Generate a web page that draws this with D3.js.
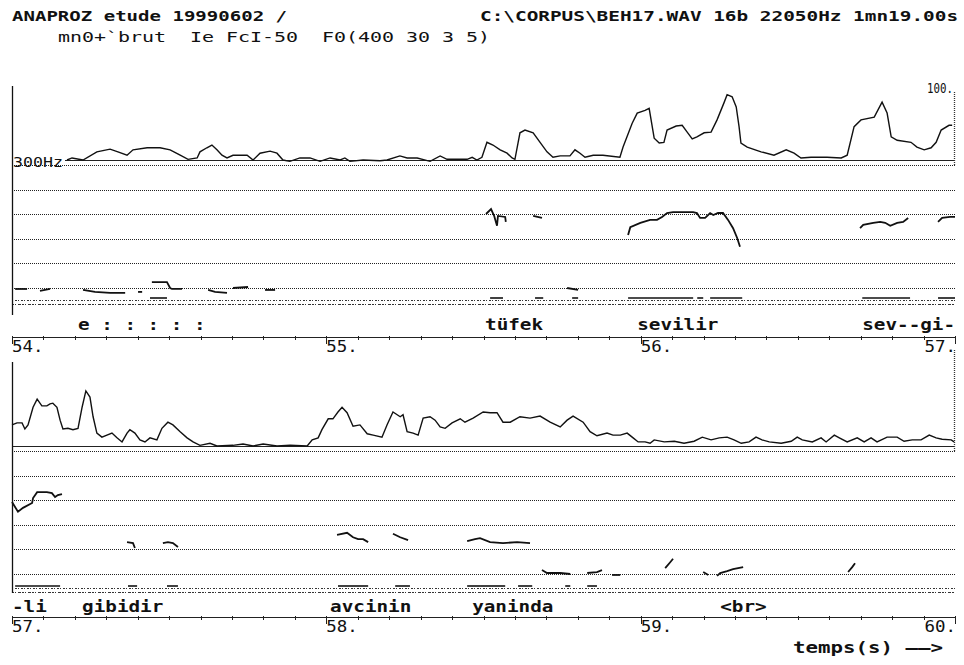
<!DOCTYPE html>
<html lang="fr">
<head>
<meta charset="utf-8" />
<title>ANAPROZ etude 19990602</title>
<script src="https://cdn.jsdelivr.net/npm/d3@7"></script>
<style>
body{margin:0;background:#fff;}
svg{display:block;}
text{font-family:"DejaVu Sans Mono",monospace;fill:#111;white-space:pre;}
</style>
</head>
<body>
<svg width="964" height="665"></svg>
<script>
// energy curve (0..100), [time s, value]
const energyTop = [
  [54.175,0],[54.191,3],[54.226,0],[54.270,12],[54.312,16],[54.337,12],[54.366,7],[54.385,15],
  [54.430,18],[54.471,18],[54.503,15],[54.535,7],[54.560,1],[54.589,3],[54.598,12],[54.620,18],
  [54.636,22],[54.652,15],[54.668,7],[54.684,3],[54.703,7],[54.748,7],[54.767,0],[54.789,10],
  [54.821,13],[54.843,10],[54.862,0],[54.884,-2],[54.916,3],[54.948,3],[54.980,-2],[55.012,3],
  [55.044,0],[55.059,3],[55.075,-2],[55.117,0],[55.171,-1],[55.193,0],[55.234,6],[55.257,3],
  [55.289,3],[55.330,-2],[55.362,6],[55.384,1],[55.448,1],[55.464,4],[55.479,0],[55.495,4],
  [55.511,26],[55.530,22],[55.553,15],[55.575,10],[55.591,3],[55.600,1],[55.616,40],[55.632,44],
  [55.658,40],[55.680,26],[55.702,12],[55.721,4],[55.744,6],[55.775,6],[55.791,15],[55.807,10],
  [55.823,4],[55.849,7],[55.880,7],[55.934,4],[55.944,19],[55.973,54],[55.989,69],[56.014,73],
  [56.027,76],[56.043,32],[56.059,25],[56.074,26],[56.084,44],[56.113,50],[56.132,51],[56.148,41],
  [56.164,31],[56.179,34],[56.202,40],[56.224,41],[56.243,59],[56.265,84],[56.275,96],[56.291,93],
  [56.304,78],[56.313,49],[56.319,25],[56.339,19],[56.383,12],[56.424,7],[56.463,15],[56.488,10],
  [56.510,3],[56.542,4],[56.593,4],[56.638,3],[56.657,7],[56.679,49],[56.701,59],[56.743,63],
  [56.768,85],[56.784,69],[56.797,34],[56.816,29],[56.860,26],[56.879,19],[56.902,15],[56.924,18],
  [56.940,26],[56.956,44],[56.981,51],[56.991,51]
];
const energyBottom = [
  [57.000,31],[57.016,34],[57.032,34],[57.041,25],[57.051,31],[57.067,57],[57.080,69],[57.095,59],
  [57.111,59],[57.121,62],[57.130,63],[57.143,57],[57.153,38],[57.162,25],[57.178,26],[57.194,24],
  [57.210,26],[57.223,57],[57.235,81],[57.248,72],[57.258,43],[57.270,19],[57.286,13],[57.302,16],
  [57.318,19],[57.334,12],[57.350,6],[57.366,19],[57.375,24],[57.391,19],[57.407,9],[57.423,6],
  [57.439,12],[57.461,9],[57.477,26],[57.496,35],[57.512,31],[57.535,21],[57.557,12],[57.576,6],
  [57.598,1],[57.630,4],[57.652,0],[57.703,1],[57.735,3],[57.767,0],[57.799,3],[57.843,0],
  [57.885,1],[57.939,0],[57.955,9],[57.974,12],[57.986,24],[58.006,40],[58.021,40],[58.037,50],
  [58.050,57],[58.066,49],[58.085,29],[58.107,31],[58.130,18],[58.149,16],[58.177,13],[58.193,31],
  [58.212,50],[58.235,43],[58.244,46],[58.257,21],[58.276,19],[58.292,16],[58.308,41],[58.330,43],
  [58.346,38],[58.362,28],[58.378,26],[58.400,34],[58.426,40],[58.441,35],[58.467,41],[58.499,50],
  [58.521,49],[58.543,49],[58.562,35],[58.585,35],[58.616,43],[58.648,41],[58.680,44],[58.712,35],
  [58.744,28],[58.766,38],[58.785,44],[58.817,35],[58.839,21],[58.861,15],[58.893,19],[58.912,16],
  [58.935,16],[58.957,19],[58.976,12],[58.992,6],[59.014,6],[59.030,4],[59.043,9],[59.075,6],
  [59.107,7],[59.138,4],[59.170,7],[59.196,13],[59.224,9],[59.250,12],[59.275,13],[59.297,9],
  [59.320,4],[59.345,6],[59.367,13],[59.386,9],[59.409,6],[59.447,4],[59.479,7],[59.498,13],
  [59.514,9],[59.546,6],[59.574,12],[59.590,6],[59.616,16],[59.632,12],[59.657,6],[59.689,12],
  [59.711,6],[59.733,12],[59.752,6],[59.784,13],[59.816,13],[59.838,7],[59.864,9],[59.892,9],
  [59.918,16],[59.940,12],[59.959,10],[59.988,9],[59.997,6]
];

// F0 segments in Hz, [time s, Hz]
const f0Top = [
  [[54.010,47],[54.048,47]],
  [[54.089,43],[54.121,47]],
  [[54.226,45],[54.264,41],[54.312,39],[54.360,39]],
  [[54.401,41],[54.414,41]],
  [[54.445,61],[54.493,61],[54.503,49],[54.509,47],[54.541,47]],
  [[54.624,45],[54.646,41],[54.684,39]],
  [[54.703,49],[54.751,51]],
  [[54.805,45],[54.837,45]],
  [[55.508,200],[55.524,210],[55.534,196],[55.543,176],[55.546,196],[55.569,194],[55.571,184]],
  [[55.658,196],[55.686,192]],
  [[55.766,49],[55.801,45]],
  [[55.960,157],[55.967,173],[55.999,182],[56.030,188],[56.052,188],[56.068,194],[56.084,202],
   [56.103,204],[56.167,204],[56.179,202],[56.189,192],[56.205,192],[56.221,202],[56.231,198],
   [56.246,202],[56.262,202],[56.278,188],[56.294,171],[56.307,151],[56.316,133]],
  [[56.698,171],[56.708,178],[56.740,182],[56.762,184],[56.778,182],[56.794,176],[56.816,182],
   [56.835,184],[56.851,192]],
  [[56.946,184],[56.959,192],[56.984,194],[57.000,194]]
];
const f0Bottom = [
  [[57.000,196],[57.019,176],[57.035,184],[57.064,194],[57.067,204],[57.080,216],[57.111,216],
   [57.127,214],[57.137,206],[57.146,210],[57.159,212]],
  [[57.366,114],[57.385,112],[57.391,102]],
  [[57.480,112],[57.496,114],[57.512,112],[57.528,104]],
  [[58.034,129],[58.066,133],[58.085,124],[58.101,120],[58.117,120],[58.133,114]],
  [[58.212,131],[58.235,124],[58.260,118]],
  [[58.448,116],[58.473,120],[58.489,122],[58.521,114],[58.562,112],[58.607,114],[58.648,112]],
  [[58.686,57],[58.702,51],[58.744,51],[58.776,49]],
  [[58.830,51],[58.861,53],[58.877,57]],
  [[58.909,47],[58.935,47]],
  [[59.078,61],[59.094,73],[59.103,80]],
  [[59.199,53],[59.215,47]],
  [[59.243,45],[59.253,51],[59.275,55],[59.294,59],[59.326,63]],
  [[59.660,53],[59.673,63],[59.682,71]]
];

// voiced stretches [start, end] in s
const voicingTop = [[54.439,54.493],[55.521,55.562],[55.664,55.690],[55.782,55.801],[55.960,56.167],
  [56.180,56.199],[56.221,56.323],[56.705,56.857],[56.946,57.000]];
const voicingBottom = [[57.010,57.153],[57.369,57.398],[57.493,57.528],[58.037,58.133],[58.219,58.266],
  [58.448,58.489],[58.489,58.569],[58.610,58.655],[58.760,58.776],[58.830,58.861]];

// transcription
const wordsTop = [[54.210,"e : : : : :"],[55.505,"tüfek"],[55.989,"sevilir"],[56.705,"sev--gi-"]];
const wordsBottom = [[57.000,"-li"],[57.223,"gibidir"],[58.012,"avcinin"],[58.464,"yaninda"],[59.253,"<br>"]];

const ticksTop = ["54.","55.","56.","57."];
const ticksBottom = ["57.","58.","59.","60."];
const f0Grid = [300, 250, 200, 150, 100, 50];

const svg = d3.select('svg');

function txt(x, y, s, size, adv, weight, anchor){
  return svg.append('text')
    .attr('x', x).attr('y', y)
    .attr('xml:space', 'preserve')
    .attr('font-size', size)
    .attr('font-weight', weight || 'normal')
    .attr('text-anchor', anchor || 'start')
    .attr('textLength', s.length * adv)
    .attr('lengthAdjust', 'spacingAndGlyphs')
    .text(s);
}

// header
txt(12, 21, 'ANAPROZ etude 19990602 /', 14, 11.46, 'bold');
txt(480, 21, 'C:\\CORPUS\\BEH17.WAV 16b 22050Hz 1mn19.00s', 14, 11.66, 'bold');
txt(58, 42, 'mn0+`brut  Ie FcI-50  F0(400 30 3 5)', 14, 12, 'normal');

const panels = [
  {t0: 54, eBase: 160, eTop: 92, gridTop: 165, axisY: 337, left: [86, 315], right: [92, 166],
   wordY: 330, voiceY: 300, tickY: 352, energy: energyTop, f0: f0Top, voicing: voicingTop,
   words: wordsTop, ticks: ticksTop},
  {t0: 57, eBase: 446, eTop: 378, gridTop: 451, axisY: 617, left: [362, 593], right: [350, 452],
   wordY: 612, voiceY: 588, tickY: 632, energy: energyBottom, f0: f0Bottom, voicing: voicingBottom,
   words: wordsBottom, ticks: ticksBottom}
];

panels.forEach((p, pi) => {
  const x = d3.scaleLinear().domain([p.t0, p.t0 + 3]).range([12, 955]);
  const e = d3.scaleLinear().domain([0, 100]).range([p.eBase, p.eTop]);
  const f = d3.scaleLinear().domain([300, 50]).range([p.gridTop, p.gridTop + 122.5]);
  const g = svg.append('g');

  // F0 grid
  g.selectAll('line.grid').data(f0Grid).enter().append('line')
    .attr('x1', 12).attr('x2', 955)
    .attr('y1', d => Math.round(f(d)) + 0.5).attr('y2', d => Math.round(f(d)) + 0.5)
    .attr('stroke', '#222').attr('stroke-dasharray', '1,1').attr('stroke-width', 1);

  // voicing row
  [0, 4].forEach(dy => {
    g.append('line').attr('x1', 12).attr('x2', 955)
      .attr('y1', p.voiceY + dy + 0.5).attr('y2', p.voiceY + dy + 0.5)
      .attr('stroke', '#333').attr('stroke-dasharray', dy ? '2,1,1,2,3,1' : '1,2,2,1')
      .attr('stroke-width', 1);
  });
  g.selectAll('line.voice').data(p.voicing).enter().append('line')
    .attr('x1', d => x(d[0])).attr('x2', d => x(d[1]))
    .attr('y1', p.voiceY - 2).attr('y2', p.voiceY - 2)
    .attr('stroke', '#111').attr('stroke-width', 1.6);

  // energy baseline
  g.append('line').attr('x1', pi ? 12 : 65).attr('x2', 955)
    .attr('y1', p.eBase + 0.5).attr('y2', p.eBase + 0.5)
    .attr('stroke', '#222').attr('stroke-width', 1);

  // axes frame
  g.append('line').attr('x1', 12.5).attr('x2', 12.5).attr('y1', p.left[0]).attr('y2', p.left[1])
    .attr('stroke', '#111').attr('stroke-width', 1.3);
  g.append('line').attr('x1', 954.5).attr('x2', 954.5).attr('y1', p.right[0]).attr('y2', p.right[1])
    .attr('stroke', '#333').attr('stroke-dasharray', '1,1').attr('stroke-width', 1.3);

  // energy curve
  g.append('path').datum(p.energy)
    .attr('d', d3.line().x(d => x(d[0])).y(d => e(d[1])))
    .attr('fill', 'none').attr('stroke', '#111').attr('stroke-width', 1.4);

  // F0 curves
  g.selectAll('path.f0').data(p.f0).enter().append('path')
    .attr('d', d3.line().x(d => x(d[0])).y(d => f(d[1])))
    .attr('fill', 'none').attr('stroke', '#111').attr('stroke-width', 1.8);

  // words
  p.words.forEach(w => txt(x(w[0]), p.wordY, w[1], 16, 11.6, 'bold'));

  // time axis
  g.append('line').attr('x1', 12).attr('x2', 955)
    .attr('y1', p.axisY + 0.5).attr('y2', p.axisY + 0.5)
    .attr('stroke', '#222').attr('stroke-width', 1);
  const tk = d3.range(0, 31).map(k => p.t0 + k / 10);
  g.selectAll('line.tick').data(tk).enter().append('line')
    .attr('x1', d => Math.round(x(d)) + 0.5).attr('x2', d => Math.round(x(d)) + 0.5)
    .attr('y1', p.axisY - 1)
    .attr('y2', (d, i) => p.axisY + (i % 10 === 0 ? 7 : 3))
    .attr('stroke', '#222').attr('stroke-width', 1);
  p.ticks.forEach((s, i) => {
    const last = i === p.ticks.length - 1;
    txt(x(p.t0 + i) + (last ? 1 : 0), p.tickY, s, 15, 10.5, 'normal', last ? 'end' : 'start');
  });
});

// scale labels
txt(13, 167, '300Hz', 14, 10, 'normal');
txt(953, 93, '100.', 14, 6.5, 'normal', 'end');
txt(793, 653, 'temps(s) ——>', 15, 12.5, 'bold');
</script>
</body>
</html>
